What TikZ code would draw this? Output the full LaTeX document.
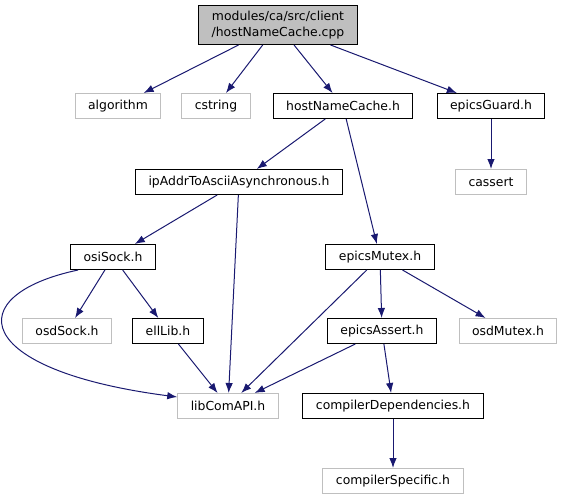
\documentclass[tikz,border=0pt]{standalone}
\usepackage{fontspec}
\setmainfont{DejaVu Sans}
\usetikzlibrary{shapes, arrows.meta}
\definecolor{azulseta}{RGB}{25,25,112}
\tikzstyle{arquivo} = [rectangle, draw=black, text centered, font=\fontsize{12.4}{16}\selectfont, minimum height=25pt, inner xsep=13pt, inner ysep=0pt, line width=1pt]
\tikzstyle{externo} = [arquivo, draw=black!25]
\tikzstyle{raiz} = [arquivo, fill=black!25, align=center, minimum height=39pt]
\tikzstyle{connector} = [draw=azulseta, line width=1pt, -{Latex[length=10pt, width=7.5pt]}]

\begin{document}
\begin{tikzpicture}[x=1pt, y=-1pt] %desenho em pixels, y para baixo

\useasboundingbox (0,0) rectangle (562,500);

%---------------------------------------------
%Arquivos do grafo de dependencias
%---------------------------------------------

\node [raiz] at (278,25) (raiz) {modules/ca/src/client\\/hostNameCache.cpp};
%arquivo principal, topo, caixa cinza

\node [externo] at (118,106) (algorithm) {algorithm};
\node [externo] at (216,106) (cstring) {cstring};
\node [arquivo] at (343,106) (hostcache) {hostNameCache.h};
\node [arquivo] at (491,106) (guard) {epicsGuard.h};
\node [externo] at (491,182) (cassert) {cassert};
\node [arquivo] at (239,182) (ipaddr) {ipAddrToAsciiAsynchronous.h};
\node [arquivo] at (113,257) (osisock) {osiSock.h};
\node [arquivo] at (380,257) (mutex) {epicsMutex.h};
\node [externo] at (67,331) (osdsock) {osdSock.h};
\node [arquivo] at (168,331) (elllib) {ellLib.h};
\node [arquivo] at (382,331) (eassert) {epicsAssert.h};
\node [externo] at (508,331) (osdmutex) {osdMutex.h};
\node [externo] at (228,406) (libcom) {libComAPI.h};
\node [arquivo] at (393,406) (compdep) {compilerDependencies.h};
\node [externo] at (393,481) (compspec) {compilerSpecific.h};

%---------------------------------------------
%Setas de inclusao
%---------------------------------------------
\path [connector] (raiz) -- (algorithm);
\path [connector] (raiz) -- (cstring);
\path [connector] (raiz) -- (hostcache);
\path [connector] (raiz) -- (guard);
\path [connector] (guard) -- (cassert);
\path [connector] (hostcache) -- (ipaddr);
\path [connector] (hostcache) -- (mutex);
\path [connector] (ipaddr) -- (osisock);
\path [connector] (ipaddr) -- (libcom);
\path [connector] ([xshift=8pt]osisock.south west) .. controls (-40,295) and (-30,370) .. ([yshift=9pt]libcom.west);
\path [connector] (osisock) -- (osdsock);
\path [connector] (osisock) -- (elllib);
\path [connector] (elllib) -- (libcom);
\path [connector] (mutex) -- (libcom);
\path [connector] (mutex) -- (eassert);
\path [connector] (mutex) -- (osdmutex);
\path [connector] (eassert) -- (libcom);
\path [connector] (eassert) -- (compdep);
\path [connector] (compdep) -- (compspec);

\end{tikzpicture}
\end{document}
